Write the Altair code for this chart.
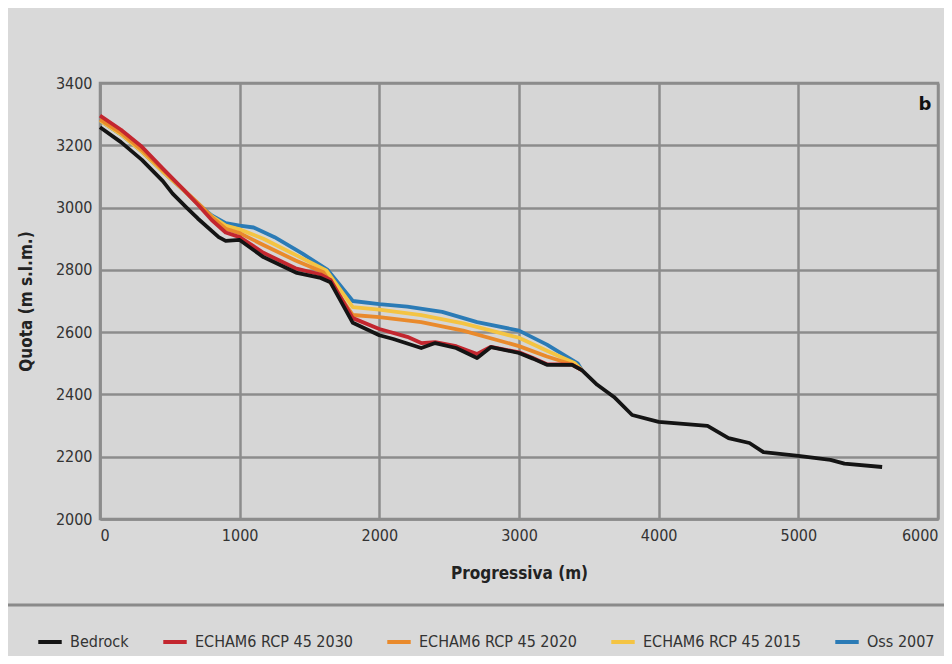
import altair as alt
import pandas as pd

series_names = ["Bedrock", "ECHAM6 RCP 45 2030", "ECHAM6 RCP 45 2020", "ECHAM6 RCP 45 2015", "Oss 2007"]
series_colors = ["#141414", "#c3262f", "#e98a2c", "#f4c443", "#2b7bb6"]

bedrock_x = [0, 150, 300, 450, 520, 620, 700, 850, 900, 1000, 1170, 1410, 1580, 1650, 1810, 2000, 2100, 2300, 2400, 2550, 2700, 2800, 3000, 3100, 3200, 3380, 3450, 3560, 3680, 3810, 4000, 4350, 4500, 4650, 4750, 5000, 5230, 5330, 5600]
bedrock_y = [3258, 3210, 3153, 3085, 3045, 3000, 2965, 2905, 2893, 2896, 2841, 2790, 2774, 2760, 2630, 2590, 2578, 2549, 2565, 2549, 2517, 2552, 2533, 2515, 2495, 2495, 2478, 2431, 2392, 2334, 2312, 2299, 2260, 2244, 2215, 2203, 2190, 2178, 2167]

r2030_x = [0, 150, 300, 450, 600, 700, 800, 900, 1000, 1170, 1400, 1580, 1650, 1810, 2000, 2200, 2300, 2400, 2550, 2700, 2800, 3000, 3100, 3200, 3380, 3450]
r2030_y = [3295, 3250, 3195, 3125, 3057, 3010, 2960, 2920, 2905, 2855, 2805, 2785, 2768, 2645, 2610, 2585, 2565, 2568, 2555, 2530, 2553, 2535, 2517, 2497, 2496, 2478]

r2020_x = [0, 150, 300, 450, 600, 700, 800, 900, 1000, 1170, 1400, 1600, 1810, 2000, 2300, 2600, 3000, 3200, 3380, 3450]
r2020_y = [3283, 3240, 3185, 3120, 3057, 3015, 2970, 2932, 2918, 2880, 2830, 2792, 2655, 2648, 2632, 2605, 2555, 2522, 2496, 2478]

r2015_x = [0, 150, 300, 450, 600, 700, 800, 900, 1000, 1170, 1400, 1620, 1810, 2000, 2300, 2600, 3000, 3200, 3400, 3450]
r2015_y = [3280, 3235, 3180, 3115, 3055, 3012, 2972, 2942, 2930, 2900, 2848, 2798, 2680, 2672, 2655, 2628, 2582, 2540, 2500, 2478]

oss_x = [0, 150, 300, 450, 600, 700, 800, 900, 1000, 1100, 1250, 1450, 1630, 1810, 2000, 2200, 2450, 2700, 3000, 3200, 3420, 3450]
oss_y = [3280, 3235, 3180, 3115, 3055, 3012, 2975, 2950, 2942, 2936, 2905, 2852, 2800, 2700, 2690, 2682, 2665, 2632, 2605, 2560, 2500, 2478]

x_ticks = [0, 1000, 2000, 3000, 4000, 5000, 6000]
y_ticks = [2000, 2200, 2400, 2600, 2800, 3000, 3200, 3400]

FONT = "DejaVu Sans Condensed"

data = {
    "Bedrock": (bedrock_x, bedrock_y),
    "ECHAM6 RCP 45 2030": (r2030_x, r2030_y),
    "ECHAM6 RCP 45 2020": (r2020_x, r2020_y),
    "ECHAM6 RCP 45 2015": (r2015_x, r2015_y),
    "Oss 2007": (oss_x, oss_y),
}

color_scale = alt.Scale(domain=series_names, range=series_colors)
x_enc = alt.X("x:Q", scale=alt.Scale(domain=[0, 6000], nice=False),
              axis=alt.Axis(values=x_ticks, format="d", title="Progressiva (m)", titlePadding=22))
y_enc = alt.Y("y:Q", scale=alt.Scale(domain=[2000, 3400], nice=False),
              axis=alt.Axis(values=y_ticks, format="d", title="Quota (m s.l.m.)", titlePadding=20))

draw_order = ["Oss 2007", "ECHAM6 RCP 45 2015", "ECHAM6 RCP 45 2020", "ECHAM6 RCP 45 2030", "Bedrock"]
layers = []
for name in draw_order:
    xs, ys = data[name]
    df = pd.DataFrame({"x": xs, "y": ys, "serie": [name] * len(xs)})
    layers.append(
        alt.Chart(df).mark_line(strokeWidth=3.8, strokeJoin="round").encode(
            x=x_enc, y=y_enc,
            color=alt.Color("serie:N", scale=color_scale,
                            legend=alt.Legend(title=None, orient="none", direction="horizontal",
                                              legendX=-64, legendY=545, symbolType="stroke",
                                              symbolStrokeWidth=4, symbolSize=550,
                                              labelFont=FONT, labelFontSize=16, labelColor="#333333",
                                              labelOffset=6, columnPadding=26, labelLimit=400)),
        )
    )

sep = alt.Chart(pd.DataFrame({"a": [0]})).mark_rule(color="#8a8a8a", strokeWidth=3).encode(
    x=alt.value(-92), x2=alt.value(852), y=alt.value(522)
)
label_b = alt.Chart(pd.DataFrame({"t": ["b"]})).mark_text(
    fontWeight="bold", fontSize=18, font="DejaVu Sans", color="#111111"
).encode(x=alt.value(825), y=alt.value(22), text="t:N")

chart = alt.layer(*layers, sep, label_b).properties(
    width=838, height=436,
    autosize="none",
    padding={"left": 92, "top": 75, "right": 6, "bottom": 137},
    background="#d9d9d9",
).configure_view(
    fill="#d6d6d6", stroke="#8c8c8c", strokeWidth=2.5
).configure_axis(
    grid=True, gridColor="#8c8c8c", gridWidth=2.5,
    domainColor="#8c8c8c", domainWidth=2.5, ticks=False,
    labelFont=FONT, labelFontSize=16, labelColor="#333333", labelPadding=8,
    titleFont=FONT, titleFontSize=17, titleFontWeight="bold", titleColor="#222222",
)

chart.save("out.html", embed_options={"renderer": "svg", "actions": False})
